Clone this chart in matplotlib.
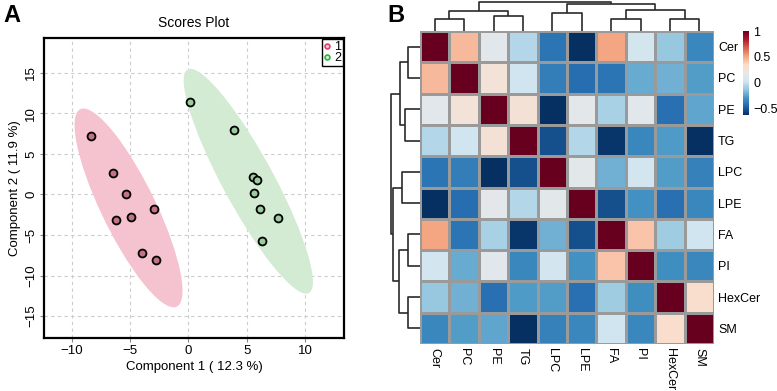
import numpy as np
import matplotlib
matplotlib.use('Agg')
import matplotlib.pyplot as plt
from matplotlib.patches import Ellipse
from matplotlib.lines import Line2D
from matplotlib.colors import LinearSegmentedColormap

plt.rcParams['font.family'] = ['Liberation Sans', 'DejaVu Sans']

# ---- scores plot data (PCA component 1 / 2) ----
group1_x = [-8.35, -6.5, -5.4, -6.25, -4.9, -3.0, -4.0, -2.75]
group1_y = [7.2, 2.6, 0.1, -3.2, -2.8, -1.85, -7.2, -8.1]
group2_x = [0.15, 3.9, 5.5, 5.85, 5.6, 6.15, 7.65, 6.3]
group2_y = [11.4, 8.0, 2.1, 1.8, 0.2, -1.85, -2.9, -5.7]
group_labels = ['1', '2']

# ---- correlation heatmap data ----
lipids = ['Cer', 'PC', 'PE', 'TG', 'LPC', 'LPE', 'FA', 'PI', 'HexCer', 'SM']
corr = [
    [1.00, 0.45, 0.14, -0.05, -0.40, -0.62, 0.51, 0.04, -0.12, -0.34],
    [0.45, 1.00, 0.27, 0.03, -0.37, -0.43, -0.40, -0.22, -0.20, -0.26],
    [0.14, 0.27, 1.00, 0.28, -0.62, 0.16, -0.07, 0.14, -0.42, -0.24],
    [-0.05, 0.03, 0.28, 1.00, -0.52, -0.05, -0.60, -0.34, -0.27, -0.62],
    [-0.40, -0.37, -0.62, -0.52, 1.00, 0.15, -0.20, 0.04, -0.26, -0.36],
    [-0.62, -0.43, 0.16, -0.05, 0.15, 1.00, -0.52, -0.30, -0.42, -0.34],
    [0.51, -0.40, -0.07, -0.60, -0.20, -0.52, 1.00, 0.42, -0.10, 0.03],
    [0.04, -0.22, 0.14, -0.34, 0.04, -0.30, 0.42, 1.00, -0.31, -0.34],
    [-0.12, -0.20, -0.42, -0.27, -0.26, -0.42, -0.10, -0.31, 1.00, 0.32],
    [-0.34, -0.26, -0.24, -0.62, -0.36, -0.34, 0.03, -0.34, 0.32, 1.00],
]
# hierarchical clustering merges: (node a, node b, height); new nodes numbered from 10
merges = [(0, 1, 12.5), (2, 3, 15.5), (4, 5, 18), (6, 7, 12), (8, 9, 12),
          (10, 11, 20.5), (13, 14, 21), (12, 16, 27), (15, 17, 29.5)]

# RdBu (11 class) reversed, with a slightly grey middle
heat_colors = ['#053061', '#2166AC', '#4393C3', '#92C5DE', '#D1E5F0', '#E8E8E8',
               '#FDDBC7', '#F4A582', '#D6604D', '#B2182B', '#67001F']
heat_cmap = LinearSegmentedColormap.from_list('rdbu_grey', heat_colors)

fig = plt.figure(figsize=(7.77, 3.91), dpi=100)
W, H = 777.0, 391.0


def px_axes(x0, y0, x1, y1):
    return fig.add_axes([x0 / W, 1 - y1 / H, (x1 - x0) / W, (y1 - y0) / H])


# ================= A: scores plot =================
ax = px_axes(44, 38, 344, 338)
chi = np.sqrt(-2 * np.log(0.05))
for xs, ys, fill in [(group1_x, group1_y, '#F5C2CF'), (group2_x, group2_y, '#D3EBD3')]:
    xs, ys = np.array(xs), np.array(ys)
    cov = np.cov(xs, ys)
    vals, vecs = np.linalg.eigh(cov)
    ang = np.degrees(np.arctan2(vecs[1, 1], vecs[0, 1]))
    ax.add_patch(Ellipse((xs.mean(), ys.mean()), 2 * chi * np.sqrt(vals[1]),
                         2 * chi * np.sqrt(vals[0]), angle=ang,
                         facecolor=fill, edgecolor='none', zorder=1))

ax.scatter(group1_x, group1_y, s=32, facecolor='#C27482', edgecolor='black', lw=1.3, zorder=3)
ax.scatter(group2_x, group2_y, s=32, facecolor='#9CCB9C', edgecolor='black', lw=1.3, zorder=3)

ax.set_xlim(-12.4, 13.35)
ax.set_ylim(-17.7, 19.3)
ax.set_xticks([-10, -5, 0, 5, 10])
ax.set_yticks([-15, -10, -5, 0, 5, 10, 15])
ax.grid(True, color='#CCCCCC', linestyle=(0, (3, 3)), lw=0.8, zorder=0)
ax.set_axisbelow(True)
for s in ax.spines.values():
    s.set_linewidth(1.6)
ax.tick_params(length=3, width=0.8, color='#888888', labelsize=9.5, pad=2)
ax.tick_params(axis='y', labelrotation=90)
for lab in ax.get_yticklabels():
    lab.set_va('center')
ax.set_xlabel('Component 1 ( 12.3 %)', fontsize=9.5, labelpad=3)
ax.set_ylabel('Component 2 ( 11.9 %)', fontsize=9.5, labelpad=3)
ax.set_title('Scores Plot', fontsize=10, pad=8)

handles = [Line2D([], [], marker='o', ls='none', markersize=3.5, markerfacecolor='#F6C4D0',
                  markeredgecolor='#E0406A', markeredgewidth=1.2),
           Line2D([], [], marker='o', ls='none', markersize=3.5, markerfacecolor='#D4ECD4',
                  markeredgecolor='#30B040', markeredgewidth=1.2)]
leg = ax.legend(handles, group_labels, loc='upper right', borderaxespad=0.1, fontsize=9,
                handlelength=0.5, handletextpad=0.3, borderpad=0.15, labelspacing=-0.1,
                fancybox=False, framealpha=1)
leg.get_frame().set_edgecolor('black')
leg.get_frame().set_linewidth(1.0)

fig.text(3 / W, 1 - 16 / H, 'A', fontsize=17, fontweight='bold', va='center', ha='left')
fig.text(387 / W, 1 - 16 / H, 'B', fontsize=17, fontweight='bold', va='center', ha='left')

# ================= B: heatmap =================
mat = np.array(corr)
n = len(lipids)
hx = px_axes(420, 31, 714, 344)
mesh = hx.pcolormesh(np.arange(n + 1), np.arange(n + 1), mat, cmap=heat_cmap,
                     vmin=mat.min(), vmax=1.0, edgecolors='#9A9A9A', linewidth=0.9)
hx.set_xlim(0, n)
hx.set_ylim(n, 0)
for s in hx.spines.values():
    s.set_visible(False)
hx.yaxis.tick_right()
hx.set_yticks(np.arange(n) + 0.5)
hx.set_yticklabels(lipids, fontsize=9)
hx.set_xticks(np.arange(n) + 0.5)
hx.set_xticklabels(lipids, fontsize=9, rotation=-90, va='top', ha='center')
hx.tick_params(length=0, pad=3)

# dendrograms from the merge table
pos = {i: i + 0.5 for i in range(n)}
hgt = {i: 0.0 for i in range(n)}
segs = []
for k, (a, b, h) in enumerate(merges):
    node = n + k
    segs.append((pos[a], hgt[a], pos[b], hgt[b], h))
    pos[node] = (pos[a] + pos[b]) / 2
    hgt[node] = h

tx = px_axes(420, 1, 714, 31)
lx = px_axes(390, 31, 420, 344)
for xa, ha_, xb, hb, h in segs:
    tx.plot([xa, xa, xb, xb], [ha_, h, h, hb], color='#2A2A2A', lw=1.2, solid_capstyle='butt')
    lx.plot([ha_, h, h, hb], [xa, xa, xb, xb], color='#2A2A2A', lw=1.2, solid_capstyle='butt')
tx.set_xlim(0, n)
tx.set_ylim(0, 30)
lx.set_ylim(n, 0)
lx.set_xlim(30, 0)
for a in (tx, lx):
    a.axis('off')

cax = px_axes(743, 31, 749, 115)
cb = fig.colorbar(mesh, cax=cax, ticks=[-0.5, 0, 0.5, 1])
cb.ax.set_yticklabels(['\u22120.5', '0', '0.5', '1'], fontsize=9)
cb.outline.set_visible(False)
cb.ax.tick_params(length=0, pad=3)

fig.savefig('out.png', dpi=100)
